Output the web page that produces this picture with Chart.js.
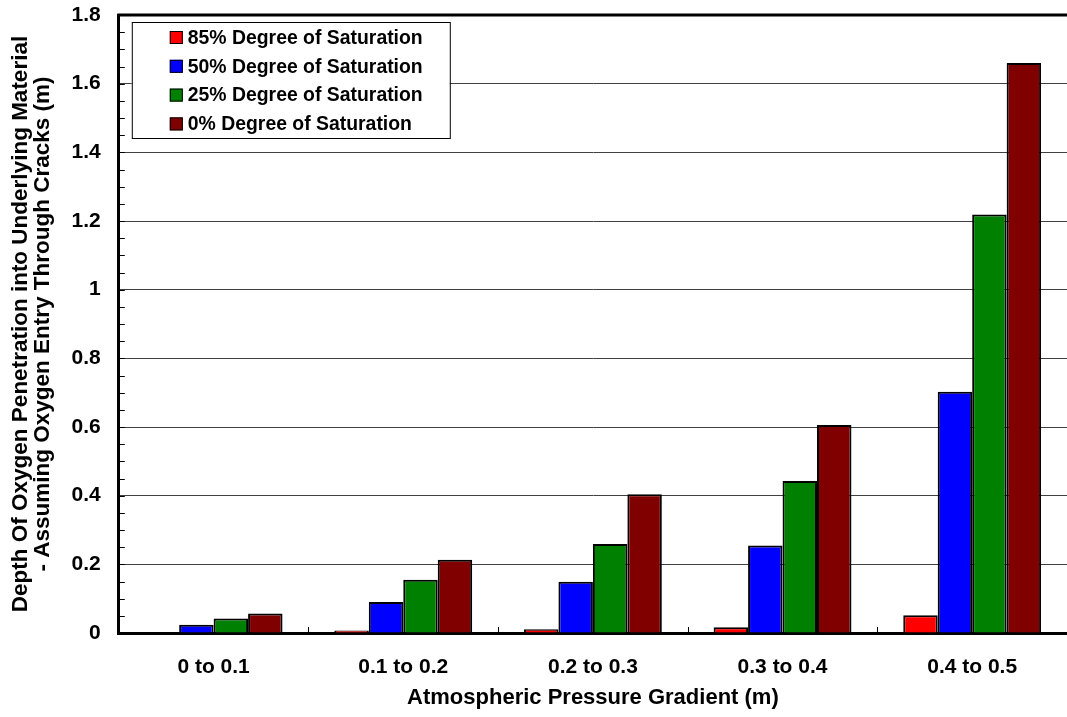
<!DOCTYPE html>
<html>
<head>
<meta charset="utf-8">
<script src="https://cdn.jsdelivr.net/npm/chart.js@4/dist/chart.umd.min.js"></script>
<style>
  html, body { margin: 0; padding: 0; background: #fff; }
  #wrap { width: 1067px; height: 717px; }
</style>
</head>
<body>
<div id="wrap"><canvas id="depthChart" width="1067" height="717"></canvas></div>
<script>
const categories = ['0 to 0.1', '0.1 to 0.2', '0.2 to 0.3', '0.3 to 0.4', '0.4 to 0.5'];
const sat85 = [0.002, 0.007, 0.011, 0.017, 0.052];
const sat50 = [0.024, 0.090, 0.149, 0.255, 0.703];
const sat25 = [0.042, 0.155, 0.259, 0.443, 1.219];
const sat0 = [0.057, 0.213, 0.404, 0.606, 1.660];
const seriesNames = ['85% Degree of Saturation', '50% Degree of Saturation', '25% Degree of Saturation', '0% Degree of Saturation'];
const seriesColors = ['#ff0000', '#0000ff', '#008000', '#800000'];
const yMin = 0, yMax = 1.8, yMajor = 0.2, yMinor = 0.05;

const FONT = 'Liberation Sans, Arial, sans-serif';

// inward minor ticks, top border and the legend box inside the plot
const extrasPlugin = {
    id: 'extras',
    afterDatasetsDraw(chart) {
        const ctx = chart.ctx;
        const area = chart.chartArea;
        const y = chart.scales.y;
        const x = chart.scales.x;
        ctx.save();
        ctx.strokeStyle = '#000';
        ctx.lineWidth = 1;
        y.ticks.forEach(t => {
            const py = Math.round(y.getPixelForValue(t.value)) + 0.5;
            ctx.beginPath();
            ctx.moveTo(area.left, py);
            ctx.lineTo(area.left + 6, py);
            ctx.stroke();
        });
        for (let i = 1; i < categories.length; i++) {
            const px = Math.round((x.getPixelForTick(i - 1) + x.getPixelForTick(i)) / 2) + 0.5;
            ctx.beginPath();
            ctx.moveTo(px, area.bottom);
            ctx.lineTo(px, area.bottom - 6);
            ctx.stroke();
        }
        // top border
        ctx.lineWidth = 3;
        ctx.beginPath();
        ctx.moveTo(area.left - 1.5, area.top);
        ctx.lineTo(area.right, area.top);
        ctx.stroke();

        // legend
        const lx = area.left + 13, ly = area.top + 7, lw = 318, lh = 116;
        ctx.fillStyle = '#fff';
        ctx.fillRect(lx, ly, lw, lh);
        ctx.lineWidth = 1;
        ctx.strokeStyle = '#000';
        ctx.strokeRect(lx + 0.5, ly + 0.5, lw, lh);
        ctx.font = 'bold 19.4px ' + FONT;
        ctx.textBaseline = 'middle';
        chart.data.datasets.forEach((ds, i) => {
            const cy = ly + 15.5 + i * 28.8;
            ctx.fillStyle = ds.backgroundColor;
            ctx.fillRect(lx + 38, cy - 6.5, 13, 13);
            ctx.strokeStyle = '#000';
            ctx.strokeRect(lx + 38.5, cy - 6, 12, 12);
            ctx.fillStyle = '#000';
            ctx.fillText(ds.label, lx + 56, cy + 1);
        });
        ctx.restore();
    }
};

const datasets = [sat85, sat50, sat25, sat0].map((vals, i) => ({
    label: seriesNames[i],
    data: vals,
    backgroundColor: seriesColors[i],
    borderColor: '#000',
    borderWidth: 2,
    borderSkipped: 'bottom',
    categoryPercentage: 0.727,
    barPercentage: 1.0
}));

const ctx = document.getElementById('depthChart').getContext('2d');
const depthChart = new Chart(ctx, {
    type: 'bar',
    data: { labels: categories, datasets: datasets },
    plugins: [extrasPlugin],
    options: {
        responsive: false,
        animation: false,
        layout: { padding: { top: 15, right: 0, left: 9.5, bottom: 6 } },
        plugins: {
            legend: { display: false },
            tooltip: { enabled: false }
        },
        scales: {
            x: {
                grid: { display: false, drawTicks: false },
                border: { color: '#000', width: 3 },
                ticks: {
                    color: '#000',
                    font: { family: FONT, size: 21, weight: 'bold' },
                    padding: 21.4
                },
                title: {
                    display: true,
                    text: 'Atmospheric Pressure Gradient (m)',
                    color: '#000',
                    font: { family: FONT, size: 22, weight: 'bold' },
                    padding: { top: -16.4, bottom: 0 }
                }
            },
            y: {
                min: yMin,
                max: yMax,
                afterFit: function (scale) {
                    // the top label may stick out above the plot, as in the original
                    scale.paddingTop = 0;
                    scale.paddingBottom = 0;
                },
                ticks: {
                    stepSize: yMinor,
                    autoSkip: false,
                    color: '#000',
                    font: { family: FONT, size: 21, weight: 'bold' },
                    padding: 18,
                    callback: function (value) {
                        const r = value / yMajor;
                        if (Math.abs(r - Math.round(r)) < 1e-6) {
                            return String(Math.round(r * yMajor * 10) / 10);
                        }
                        return '';
                    }
                },
                grid: {
                    drawTicks: false,
                    lineWidth: 1,
                    color: function (c) {
                        const v = c.tick ? c.tick.value : 0;
                        const r = v / yMajor;
                        if (v > 0 && v < yMax && Math.abs(r - Math.round(r)) < 1e-6) return '#404040';
                        return 'rgba(0,0,0,0)';
                    }
                },
                border: { color: '#000', width: 3 },
                title: {
                    display: true,
                    text: ['Depth Of Oxygen Penetration into Underlying Material', '- Assuming Oxygen Entry Through Cracks (m)'],
                    color: '#000',
                    font: { family: FONT, size: 22.5, weight: 'bold', lineHeight: 0.98 },
                    padding: { top: 0, bottom: 0 }
                }
            }
        }
    }
});
</script>
</body>
</html>
